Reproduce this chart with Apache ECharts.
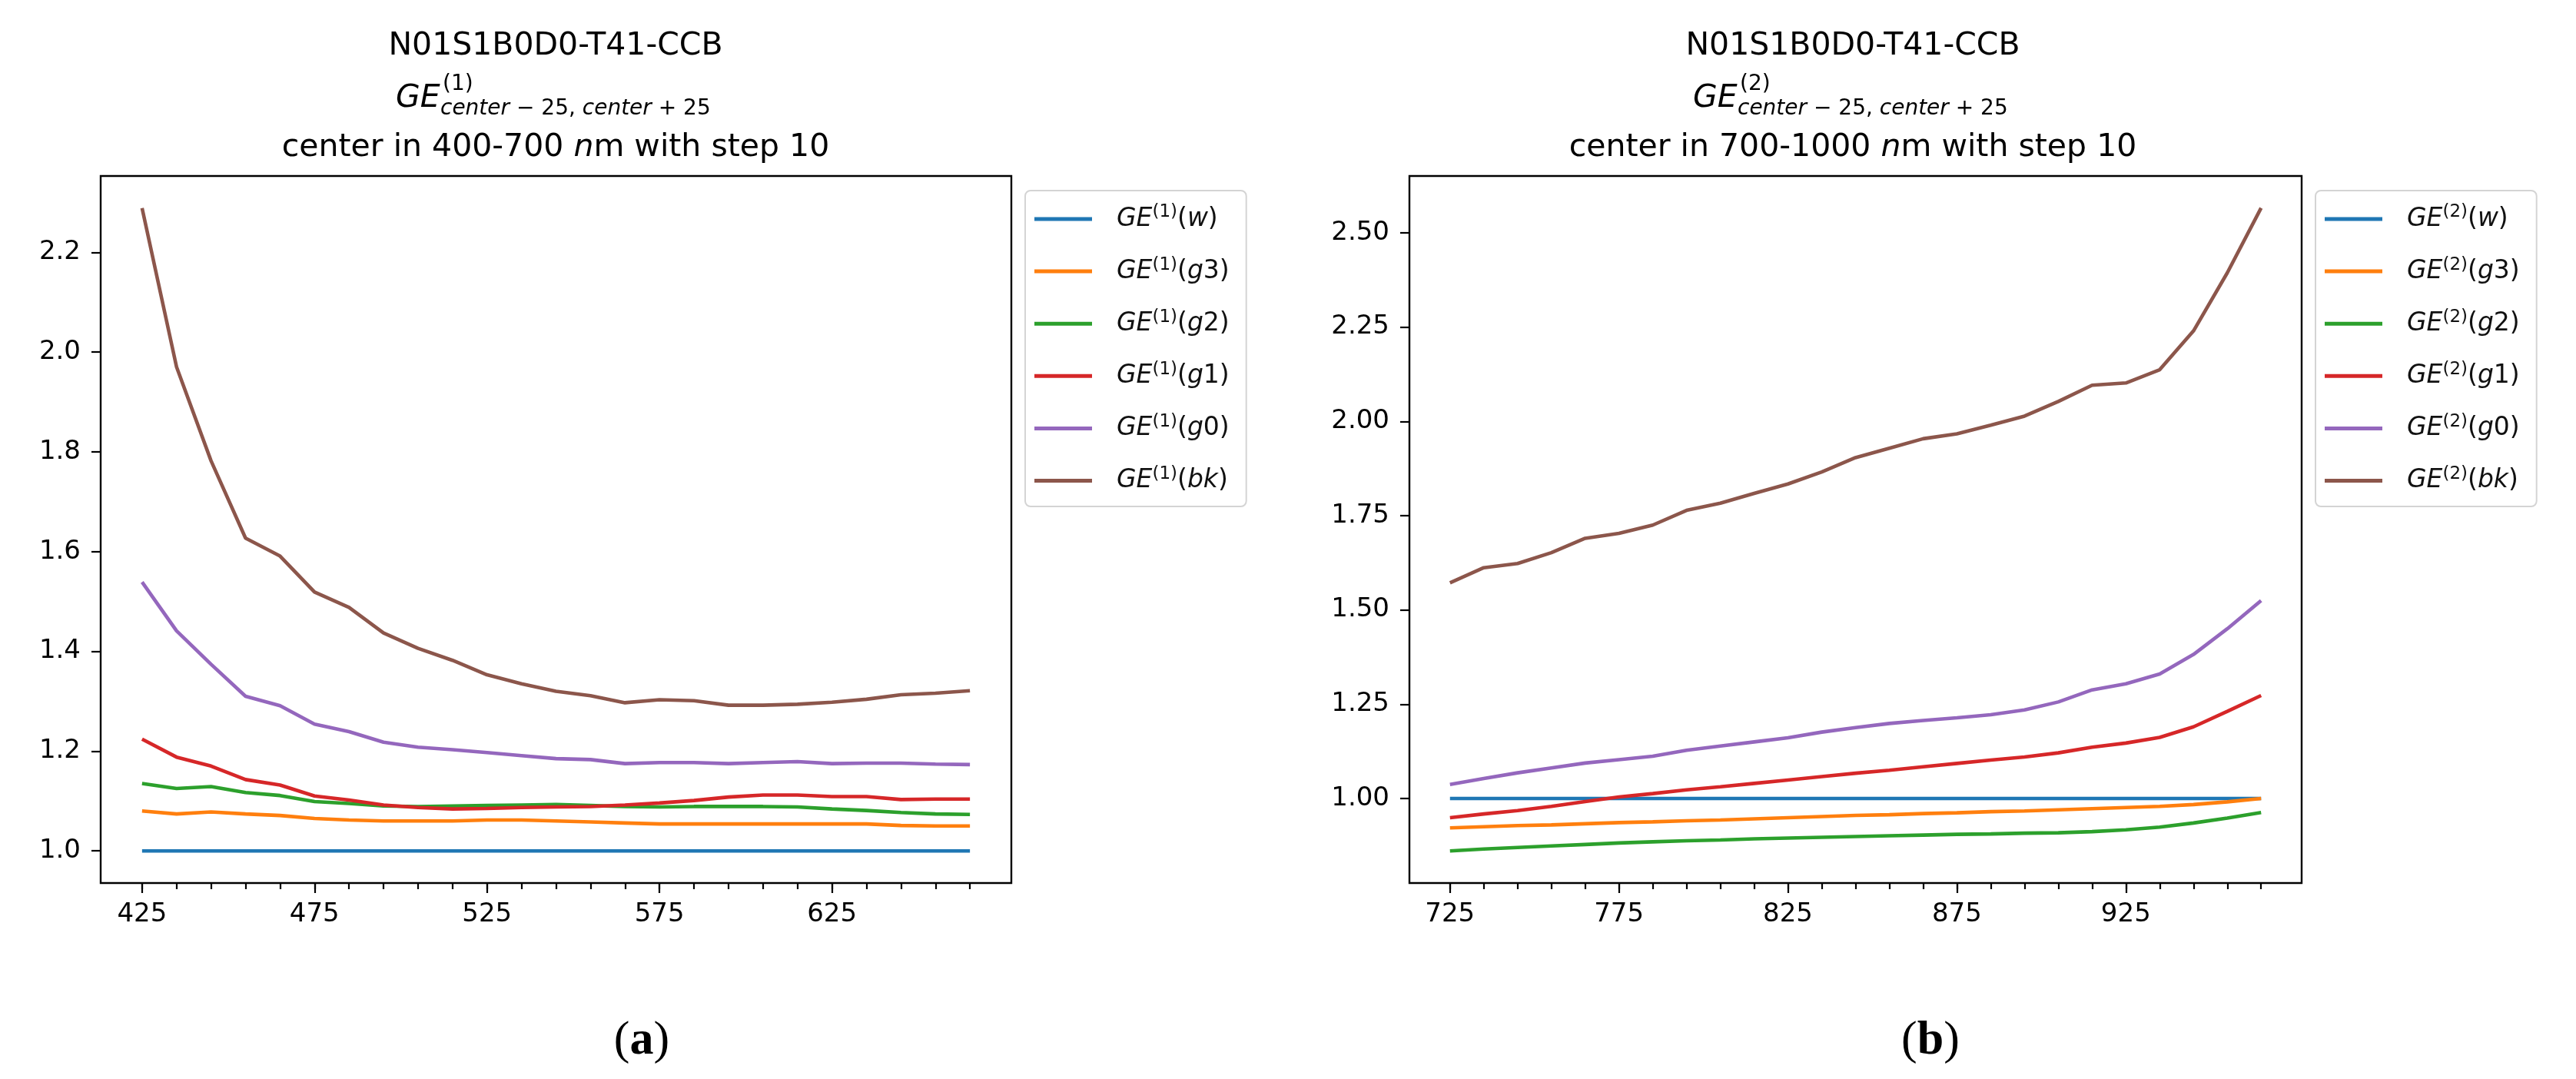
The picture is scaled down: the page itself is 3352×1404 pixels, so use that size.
<!DOCTYPE html>
<html>
<head>
<meta charset="utf-8">
<script src="https://cdn.jsdelivr.net/npm/echarts@6/dist/echarts.min.js"></script>
<style>html,body{margin:0;padding:0;background:#fff;}#c{width:3352px;height:1404px;}</style>
</head>
<body>
<div id="c"></div>
<script>
// ---- data ----
const xLeft = [425,435,445,455,465,475,485,495,505,515,525,535,545,555,565,575,585,595,605,615,625,635,645,655,665];
const xRight = [725,735,745,755,765,775,785,795,805,815,825,835,845,855,865,875,885,895,905,915,925,935,945,955,965];

const L_w  = [1,1,1,1,1,1,1,1,1,1,1,1,1,1,1,1,1,1,1,1,1,1,1,1,1];
const L_g3 = [1.080,1.074,1.078,1.074,1.071,1.065,1.062,1.060,1.060,1.060,1.062,1.062,1.060,1.058,1.056,1.054,1.054,1.054,1.054,1.054,1.054,1.054,1.051,1.050,1.050];
const L_g2 = [1.135,1.125,1.129,1.117,1.111,1.099,1.095,1.090,1.089,1.090,1.091,1.092,1.093,1.091,1.089,1.088,1.089,1.089,1.089,1.088,1.084,1.081,1.077,1.074,1.073];
const L_g1 = [1.224,1.188,1.170,1.143,1.132,1.110,1.102,1.092,1.087,1.084,1.085,1.087,1.088,1.089,1.092,1.096,1.101,1.108,1.112,1.112,1.109,1.109,1.103,1.104,1.104];
const L_g0 = [1.539,1.441,1.374,1.310,1.291,1.254,1.239,1.218,1.208,1.203,1.197,1.191,1.185,1.183,1.175,1.177,1.177,1.175,1.177,1.179,1.175,1.176,1.176,1.174,1.173];
const L_bk = [2.2885,1.970,1.782,1.627,1.591,1.519,1.488,1.437,1.406,1.382,1.353,1.335,1.320,1.311,1.297,1.303,1.301,1.292,1.292,1.294,1.298,1.304,1.313,1.316,1.321];

const R_w  = [1,1,1,1,1,1,1,1,1,1,1,1,1,1,1,1,1,1,1,1,1,1,1,1,1];
const R_g3 = [0.922,0.925,0.928,0.930,0.933,0.936,0.938,0.941,0.943,0.946,0.949,0.952,0.955,0.957,0.960,0.962,0.965,0.967,0.970,0.973,0.976,0.979,0.984,0.991,1.000];
const R_g2 = [0.861,0.866,0.870,0.874,0.878,0.882,0.885,0.888,0.890,0.893,0.895,0.897,0.899,0.901,0.903,0.905,0.906,0.908,0.909,0.912,0.917,0.924,0.935,0.948,0.963];
const R_g1 = [0.949,0.959,0.968,0.979,0.992,1.004,1.013,1.023,1.031,1.040,1.049,1.058,1.067,1.075,1.084,1.093,1.102,1.110,1.121,1.136,1.147,1.162,1.190,1.231,1.273];
const R_g0 = [1.037,1.053,1.068,1.081,1.094,1.103,1.112,1.128,1.139,1.150,1.161,1.176,1.188,1.199,1.207,1.214,1.222,1.235,1.256,1.288,1.304,1.330,1.382,1.450,1.525];
const R_bk = [1.572,1.612,1.623,1.652,1.690,1.703,1.725,1.764,1.783,1.809,1.834,1.866,1.904,1.929,1.954,1.967,1.990,2.014,2.053,2.096,2.102,2.137,2.240,2.394,2.566];

const seriesKeys = ['w','g3','g2','g1','g0','bk'];
const leftData = [L_w,L_g3,L_g2,L_g1,L_g0,L_bk];
const rightData = [R_w,R_g3,R_g2,R_g1,R_g0,R_bk];

const xLabelsLeft = [425,475,525,575,625];
const xLabelsRight = [725,775,825,875,925];
const yTicksLeft = [1.0,1.2,1.4,1.6,1.8,2.0,2.2];
const yTicksRight = [1.00,1.25,1.50,1.75,2.00,2.25,2.50];

const titleText = 'N01S1B0D0-T41-CCB';
const rangeLeft = ['400-700'];
const rangeRight = ['700-1000'];

// ---- styling ----
const colors = ['#1f77b4','#ff7f0e','#2ca02c','#d62728','#9467bd','#8c564b'];
const FONT = 'DejaVu Sans';

const chart = echarts.init(document.getElementById('c'), null, {renderer:'canvas'});

function mkName(n, key){ return 'GE(' + n + ')(' + key + ')'; }

function legendFormatter(name){
  const m = name.match(/^GE\((\d)\)\((\w+)\)$/);
  const n = m[1], key = m[2];
  let inner;
  if (key === 'w') inner = '{i|w}';
  else if (key === 'bk') inner = '{i|bk}';
  else inner = '{i|g}{n|' + key.slice(1) + '}';
  return '{sp| }{i|GE}{sup|(' + n + ')}{n|(}' + inner + '{n|)}';
}

const legendRich = {
  sp: {width: 27, fontSize: 33, lineHeight: 40},
  i: {fontFamily: FONT, fontStyle: 'italic', fontSize: 33, lineHeight: 40, color: '#111'},
  n: {fontFamily: FONT, fontSize: 33, lineHeight: 40, color: '#111'},
  sup: {fontFamily: FONT, fontSize: 23, lineHeight: 25, verticalAlign: 'top', color: '#111'}
};

function makeLegend(n, left){
  return {
    show: true, orient: 'vertical', left: left, top: 248,
    padding: [17, 22, 17, 12],
    itemGap: 31.6, itemWidth: 75, itemHeight: 5, icon: 'rect',
    borderColor: '#d4d4d4', borderWidth: 2, borderRadius: 7,
    backgroundColor: 'rgba(255,255,255,0.8)',
    selectedMode: false,
    data: seriesKeys.map(k => mkName(n, k)),
    formatter: legendFormatter,
    textStyle: {rich: legendRich}
  };
}

const tickStyle = {color: '#000', width: 2.2};
const labelStyle = {fontFamily: FONT, fontSize: 34, color: '#000'};

function xAxes(grid, min, max, all, labels){
  return [
    {gridIndex: grid, type: 'value', position: 'bottom', min: min, max: max,
     axisLine: {show: false}, splitLine: {show: false},
     axisTick: {show: true, customValues: all, length: 8, lineStyle: tickStyle},
     axisLabel: Object.assign({show: true, customValues: labels, margin: 24}, labelStyle)},
    {gridIndex: grid, type: 'value', position: 'bottom', offset: 0, min: min, max: max,
     axisLine: {show: false}, splitLine: {show: false},
     axisTick: {show: true, customValues: labels, length: 13, lineStyle: tickStyle},
     axisLabel: {show: false}}
  ];
}

function yAxis(grid, min, max, ticks, dec){
  return {gridIndex: grid, type: 'value', position: 'left', min: min, max: max,
    axisLine: {show: false}, splitLine: {show: false},
    axisTick: {show: true, customValues: ticks, length: 12, lineStyle: tickStyle},
    axisLabel: Object.assign({show: true, customValues: ticks, margin: 26,
      formatter: v => Number(v).toFixed(dec)}, labelStyle)};
}

const series = [];
seriesKeys.forEach((k, idx) => {
  series.push({name: mkName(1, k), type: 'line', xAxisIndex: 0, yAxisIndex: 0,
    data: xLeft.map((x, i) => [x, leftData[idx][i]]),
    showSymbol: false, symbol: 'none', color: colors[idx],
    lineStyle: {width: 4.6, color: colors[idx]}, z: 2 + idx});
});
seriesKeys.forEach((k, idx) => {
  series.push({name: mkName(2, k), type: 'line', xAxisIndex: 2, yAxisIndex: 1,
    data: xRight.map((x, i) => [x, rightData[idx][i]]),
    showSymbol: false, symbol: 'none', color: colors[idx],
    lineStyle: {width: 4.6, color: colors[idx]}, z: 2 + idx});
});

function titleGraphics(cx, n, range, tag){
  return [
    {type: 'text', x: cx, y: 60, style: {text: titleText, fontFamily: FONT, fontSize: 41, fill: '#000', align: 'center', verticalAlign: 'middle'}},
    {type: 'text', x: cx - 208, y: 128, style: {text: 'GE', fontFamily: FONT, fontStyle: 'italic', fontSize: 41, fill: '#000', align: 'left', verticalAlign: 'middle'}},
    {type: 'text', x: cx - 147, y: 110, style: {text: '(' + n + ')', fontFamily: FONT, fontSize: 28, fill: '#000', align: 'left', verticalAlign: 'middle'}},
    {type: 'text', x: cx - 150, y: 142, style: {
      text: '{i|center}{n| \u2212 25, }{i|center}{n| + 25}', align: 'left', verticalAlign: 'middle',
      rich: {i: {fontFamily: FONT, fontStyle: 'italic', fontSize: 28, fill: '#000', color: '#000'},
             n: {fontFamily: FONT, fontSize: 28, fill: '#000', color: '#000'}}}},
    {type: 'text', x: cx, y: 192, style: {
      text: '{n|center in ' + range[0] + ' }{i|n}{n|m with step 10}', align: 'center', verticalAlign: 'middle',
      rich: {i: {fontFamily: FONT, fontStyle: 'italic', fontSize: 41, color: '#000'},
             n: {fontFamily: FONT, fontSize: 41, color: '#000'}}}},
    {type: 'text', x: tag.x, y: 1355, style: {
      text: '{p|(}{b|' + tag.t + '}{p|)}', align: 'center', verticalAlign: 'middle',
      rich: {p: {fontFamily: 'Liberation Serif', fontSize: 62, color: '#000'},
             b: {fontFamily: 'Liberation Serif', fontWeight: 'bold', fontSize: 62, color: '#000'}}}}
  ];
}

const option = {
  backgroundColor: '#ffffff',
  animation: false,
  grid: [
    {left: 131, top: 229, width: 1185, height: 920, show: true, borderColor: '#000', borderWidth: 2.4, backgroundColor: 'transparent', containLabel: false},
    {left: 1834, top: 229, width: 1161, height: 920, show: true, borderColor: '#000', borderWidth: 2.4, backgroundColor: 'transparent', containLabel: false}
  ],
  xAxis: [].concat(
    xAxes(0, 413, 677, xLeft, xLabelsLeft),
    xAxes(1, 713, 977, xRight, xLabelsRight)
  ),
  yAxis: [
    yAxis(0, 0.9356, 2.3529, yTicksLeft, 1),
    yAxis(1, 0.7758, 2.6508, yTicksRight, 2)
  ],
  legend: [makeLegend(1, 1334), makeLegend(2, 3013)],
  series: series,
  graphic: [].concat(
    titleGraphics(723, 1, rangeLeft, {x: 835, t: 'a'}),
    titleGraphics(2411, 2, rangeRight, {x: 2512, t: 'b'})
  )
};
chart.setOption(option);
</script>
</body>
</html>
